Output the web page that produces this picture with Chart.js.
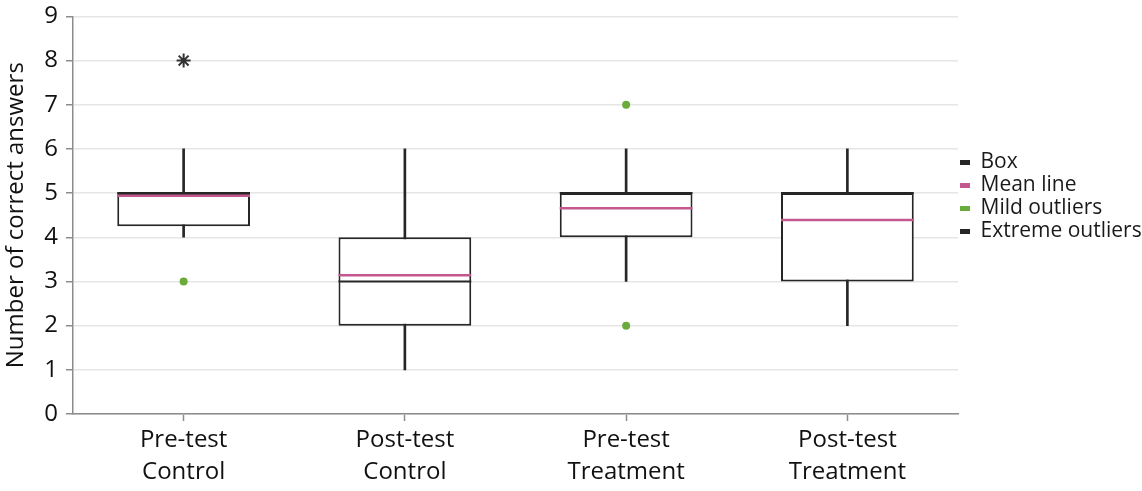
<!DOCTYPE html>
<html>
<head>
<meta charset="utf-8">
<title>Number of correct answers</title>
<script src="https://cdn.jsdelivr.net/npm/chart.js@4/dist/chart.umd.min.js"></script>
<style>
  html, body { margin: 0; padding: 0; background: #fff; }
  #wrap { width: 1142px; height: 491px; position: relative; }
</style>
</head>
<body>
<div id="wrap"><canvas id="boxChart"></canvas></div>
<script>
'use strict';

// ── Data ──────────────────────────────────────────────────
const categories  = ['Pre-test Control', 'Post-test Control', 'Pre-test Treatment', 'Post-test Treatment'];
const whiskerLow  = [4, 1, 3, 2];
const whiskerHigh = [6, 6, 6, 6];
const q1          = [4.25, 2, 4, 3];
const q3          = [5, 4, 5, 5];
const medians     = [5, 3, 5, 5];
const means       = [4.94, 3.14, 4.66, 4.39];
const mildCat     = [0, 2, 2];
const mildVal     = [3, 7, 2];
const extremeCat  = [0];
const extremeVal  = [8];
const legendNames = ['Box', 'Mean line', 'Mild outliers', 'Extreme outliers'];

// ── Style ─────────────────────────────────────────────────
const FONT       = "'Open Sans', sans-serif";
const INK        = '#262626';
const MEAN_COLOR = '#c4588e';
const MILD_COLOR = '#6aab3c';
const AXIS_COLOR = '#8c8c8c';
const GRID_COLOR = '#e6e6e6';
const BOX_FRAC   = 0.6;
const legendColors = [INK, MEAN_COLOR, MILD_COLOR, INK];

// half of a box's width in pixels, taken from the x scale
function halfBox(chart) {
  const x = chart.scales.x;
  if (!x) return 60;
  return x.width / categories.length * BOX_FRAC / 2;
}

const floatPairs = (a, b) => a.map((v, i) => [v, b[i]]);
const pointsOf = (cats, vals) => cats.map((c, i) => ({ x: categories[c], y: vals[i] }));

new Chart(document.getElementById('boxChart'), {
  type: 'bar',
  data: {
    labels: categories,
    datasets: [
      { // whiskers
        type: 'bar',
        data: floatPairs(whiskerLow, whiskerHigh),
        backgroundColor: INK,
        borderWidth: 0,
        barThickness: 2,
        grouped: false,
        order: 5
      },
      { // boxes
        type: 'bar',
        data: floatPairs(q1, q3),
        backgroundColor: '#ffffff',
        borderColor: INK,
        borderWidth: 2,
        borderSkipped: false,
        categoryPercentage: 1,
        barPercentage: BOX_FRAC,
        grouped: false,
        order: 4
      },
      { // medians
        type: 'line',
        data: medians,
        showLine: false,
        pointStyle: 'line',
        pointRadius: ctx => halfBox(ctx.chart),
        pointBorderColor: INK,
        pointBorderWidth: 2,
        order: 3
      },
      { // means
        type: 'line',
        data: means,
        showLine: false,
        pointStyle: 'line',
        pointRadius: ctx => halfBox(ctx.chart),
        pointBorderColor: MEAN_COLOR,
        pointBorderWidth: 2.5,
        order: 2
      },
      { // mild outliers
        type: 'line',
        data: pointsOf(mildCat, mildVal),
        showLine: false,
        pointStyle: 'circle',
        pointRadius: 4,
        pointBackgroundColor: MILD_COLOR,
        pointBorderColor: MILD_COLOR,
        pointBorderWidth: 0,
        order: 1
      },
      { // extreme outliers
        type: 'line',
        data: pointsOf(extremeCat, extremeVal),
        showLine: false,
        pointStyle: 'star',
        pointRadius: 7,
        pointBorderColor: '#333333',
        pointBorderWidth: 2,
        order: 1
      }
    ]
  },
  options: {
    responsive: true,
    maintainAspectRatio: false,
    animation: false,
    events: [],
    layout: { padding: 0 },
    plugins: {
      tooltip: { enabled: false },
      legend: {
        position: 'right',
        align: 'start',
        maxWidth: 184,
        title: { display: true, text: '', font: { size: 10 }, padding: { top: 138, bottom: 0 } },
        labels: {
          boxWidth: 10,
          boxHeight: 5,
          padding: 2,
          color: '#1a1a1a',
          font: { family: FONT, size: 21 },
          generateLabels: () => legendNames.map((t, i) => ({
            text: t,
            fillStyle: legendColors[i],
            strokeStyle: legendColors[i],
            fontColor: '#1a1a1a',
            lineWidth: 0,
            hidden: false,
            datasetIndex: i
          }))
        }
      }
    },
    scales: {
      x: {
        offset: true,
        grid: {
          display: true,
          offset: false,
          drawOnChartArea: false,
          tickLength: 7,
          tickColor: AXIS_COLOR,
          tickWidth: 1.5
        },
        border: { color: AXIS_COLOR, width: 1.5 },
        ticks: {
          color: '#111',
          padding: 4,
          font: { family: FONT, size: 24, lineHeight: 1.3 },
          maxRotation: 0,
          callback: function (v) { return this.getLabelForValue(v).split(' '); }
        },
        afterFit: s => { s.height = 77; }
      },
      y: {
        min: 0,
        max: 9,
        ticks: {
          stepSize: 1,
          color: '#111',
          padding: 8,
          font: { family: FONT, size: 24, lineHeight: 0.7 }
        },
        grid: {
          color: GRID_COLOR,
          lineWidth: 1.5,
          tickLength: 7,
          tickColor: AXIS_COLOR,
          tickWidth: 1.5
        },
        border: { color: AXIS_COLOR, width: 1.5 },
        title: {
          display: true,
          text: 'Number of correct answers',
          color: '#111',
          font: { family: FONT, size: 24 },
          padding: { top: 2, bottom: 4 }
        },
        afterFit: s => { s.width = 73; }
      }
    }
  }
});
</script>
</body>
</html>
